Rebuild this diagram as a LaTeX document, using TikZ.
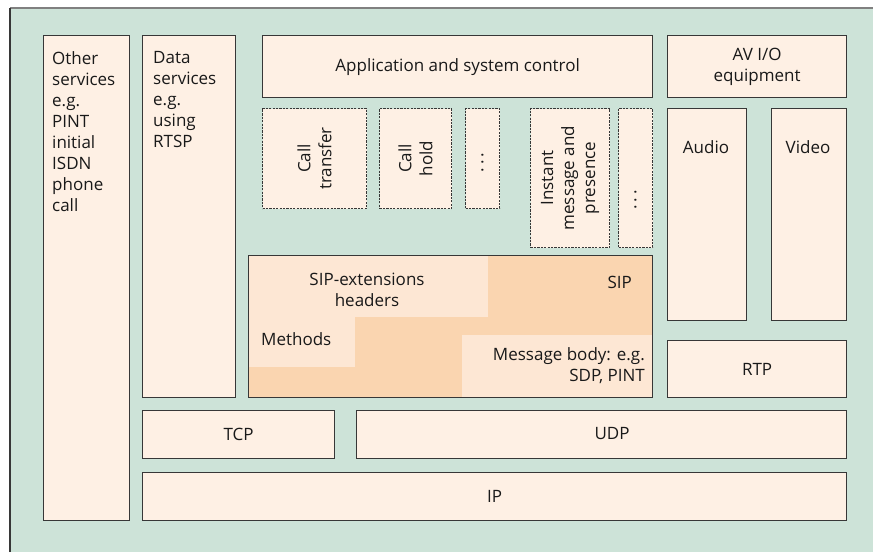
\documentclass[tikz,border=0pt]{standalone}
\usepackage{fontspec}
\setmainfont{Open Sans}
\definecolor{mint}{RGB}{205,227,216}
\definecolor{peach}{RGB}{254,240,228}
\definecolor{sipdark}{RGB}{250,213,176}
\definecolor{siplight}{RGB}{253,231,212}
\definecolor{framegray}{RGB}{55,55,55}
\begin{document}
\begin{tikzpicture}[
    x=1pt, y=-1pt,
    every node/.style={font=\fontsize{17}{21}\selectfont, text=black!90},
    box/.style={draw=framegray, line width=1.3pt, fill=peach, anchor=north west, inner sep=0pt},
    dashbox/.style={box, line width=1.1pt, dash pattern=on 2.2pt off 1.2pt},
    lbl/.style={inner sep=0pt, align=center}
]
\useasboundingbox (0,0) rectangle (873,552);
\fill[mint] (10,8) rectangle (873,552);
\draw[gray, line width=1.2pt] (10,8) -- (873,8);
\draw[framegray, line width=1.2pt] (10,552) -- (10,8);

% left columns
\node[box, minimum width=86, minimum height=485] (other) at (43,35) {};
\node[lbl, align=left, anchor=north west] (othertxt) at (52,51)
    {Other\\services\\e.g.\\PINT\\initial\\ISDN\\phone\\call};
\node[box, minimum width=93, minimum height=362] (data) at (142,35) {};
\node[lbl, align=left, anchor=north west] (datatxt) at (153,51)
    {Data\\services\\e.g.\\using\\RTSP};

% top row
\node[box, minimum width=390, minimum height=62] (app) at (262,35) {Application and system control};
\node[box, minimum width=179, minimum height=62, align=center] (av) at (667,35) {AV I/O\\equipment};

% services (dashed)
\node[dashbox, minimum width=104, minimum height=100] (transfer) at (262,108) {};
\node[lbl, rotate=90] (transfertxt) at (transfer.center) {Call\\transfer};
\node[dashbox, minimum width=72, minimum height=100] (hold) at (379,108) {};
\node[lbl, rotate=90] (holdtxt) at (hold.center) {Call\\hold};
\node[dashbox, minimum width=34, minimum height=100] (more) at (465,108) {};
\node[lbl, rotate=90] (moretxt) at ([yshift=-4]more.center) {.\,.\,.};
\node[dashbox, minimum width=79, minimum height=139] (instant) at (530,108) {};
\node[lbl, rotate=90] (instanttxt) at (instant.center) {Instant\\message and\\presence};
\node[dashbox, minimum width=34, minimum height=139] (moreb) at (618,108) {};
\node[lbl, rotate=90] (morebtxt) at ([yshift=-22]moreb.center) {.\,.\,.};

% media
\node[box, minimum width=79, minimum height=212] (audio) at (667,108) {};
\node[lbl] (audiotxt) at (706,147) {Audio};
\node[box, minimum width=75, minimum height=212] (video) at (771,108) {};
\node[lbl] (videotxt) at (808,147) {Video};
\node[box, minimum width=179, minimum height=57] (rtp) at (667,340) {RTP};

% SIP block
\fill[sipdark] (248,255) rectangle (652,397);
\fill[siplight] (248,255) rectangle (488,317);
\fill[siplight] (248,317) rectangle (355,367);
\fill[siplight] (462,335) rectangle (652,397);
\node[box, fill=none, minimum width=404, minimum height=142] (sip) at (248,255) {};
\node[lbl] (sipext) at (367,290) {SIP-extensions\\headers};
\node[lbl, anchor=east] (siptxt) at (632,282) {SIP};
\node[lbl, anchor=west] (methods) at (261,339) {Methods};
\node[lbl, align=right, anchor=east] (msgbody) at (645,366) {Message body: e.g.\\SDP, PINT};

% transport and network
\node[box, minimum width=192, minimum height=48] (tcp) at (142,410) {TCP};
\node[box, minimum width=490, minimum height=48] (udp) at (356,410) {};
\node[lbl] (udptxt) at (612,434) {UDP};
\node[box, minimum width=704, minimum height=48] (ip) at (142,472) {IP};
\end{tikzpicture}
\end{document}
